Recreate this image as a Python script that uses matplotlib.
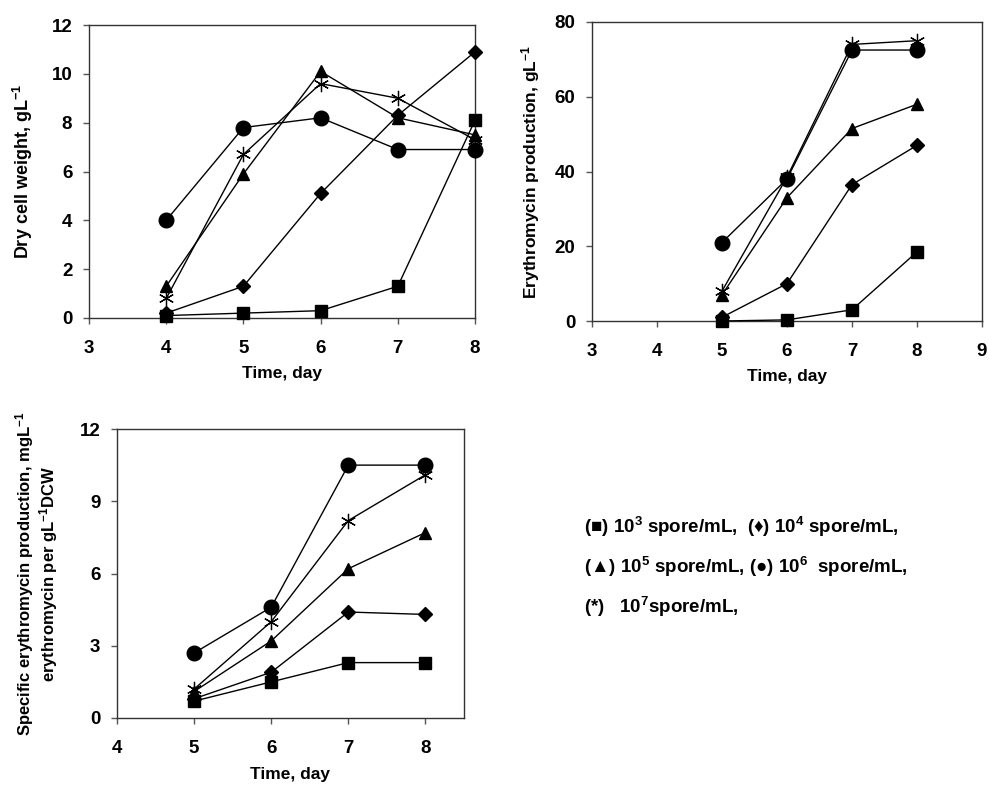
import matplotlib
matplotlib.use("Agg")
import matplotlib.pyplot as plt

plt.rcParams["font.family"] = ["Liberation Sans", "DejaVu Sans"]
plt.rcParams["font.weight"] = "bold"
plt.rcParams["mathtext.fontset"] = "custom"
plt.rcParams["mathtext.rm"] = "Liberation Sans:bold"
plt.rcParams["mathtext.bf"] = "Liberation Sans:bold"
plt.rcParams["mathtext.default"] = "bf"

# --- data ---
days_dcw = [4, 5, 6, 7, 8]
dcw_1e3 = [0.1, 0.2, 0.3, 1.3, 8.1]
dcw_1e4 = [0.2, 1.3, 5.1, 8.3, 10.9]
dcw_1e5 = [1.3, 5.9, 10.1, 8.2, 7.5]
dcw_1e6 = [4.0, 7.8, 8.2, 6.9, 6.9]
dcw_1e7 = [0.8, 6.7, 9.6, 9.0, 7.3]

days_ery = [5, 6, 7, 8]
ery_1e3 = [0.0, 0.3, 3.0, 18.5]
ery_1e4 = [1.0, 10.0, 36.5, 47.0]
ery_1e5 = [7.0, 33.0, 51.5, 58.0]
ery_1e6 = [21.0, 38.0, 72.5, 72.5]
ery_1e7 = [8.0, 38.5, 74.0, 75.0]

spec_1e3 = [0.7, 1.5, 2.3, 2.3]
spec_1e4 = [0.8, 1.9, 4.4, 4.3]
spec_1e5 = [1.1, 3.2, 6.2, 7.7]
spec_1e6 = [2.7, 4.6, 10.5, 10.5]
spec_1e7 = [1.2, 4.0, 8.2, 10.1]

# marker style per inoculum (10^3 ... 10^7)
styles = [
    dict(marker="s", ms=9),
    dict(marker="D", ms=7.5),
    dict(marker="^", ms=9),
    dict(marker="o", ms=10.5),
    dict(marker=(6, 2, 0), ms=11, mew=0.9),
]

W, H = 989, 785
fig = plt.figure(figsize=(W / 100, H / 100), dpi=100)
TICK_FS = 13.5
LAB_FS = 12.5


def px_axes(l, t, r, b):
    return fig.add_axes([l / W, 1 - b / H, (r - l) / W, (b - t) / H])


def draw(ax, x, series):
    for y, st in zip(series, styles):
        kw = dict(color="black", lw=1.0, mfc="black", mec="black", clip_on=False, zorder=3)
        kw.update(st)
        ax.plot(x, y, **kw)
    ax.tick_params(direction="out", length=4, width=1, labelsize=TICK_FS, color="#555555")
    ax.tick_params(axis="x", pad=12)
    ax.tick_params(axis="y", pad=8)
    for s in ax.spines.values():
        s.set_linewidth(1.0)
        s.set_color("#333333")


ax1 = px_axes(89, 25, 475, 318)
draw(ax1, days_dcw, [dcw_1e3, dcw_1e4, dcw_1e5, dcw_1e6, dcw_1e7])
ax1.set_xlim(3, 8)
ax1.set_ylim(0, 12)
ax1.set_xticks([3, 4, 5, 6, 7, 8])
ax1.set_yticks([0, 2, 4, 6, 8, 10, 12])
ax1.set_xlabel("Time, day", fontsize=LAB_FS, fontweight="bold")
ax1.xaxis.set_label_coords(0.5, -0.165)
ax1.set_ylabel("Dry cell weight, gL$^{-1}$", fontsize=13, fontweight="bold")
ax1.yaxis.set_label_coords(-0.14, 0.5)

ax2 = px_axes(592, 22, 982, 321)
draw(ax2, days_ery, [ery_1e3, ery_1e4, ery_1e5, ery_1e6, ery_1e7])
ax2.set_xlim(3, 9)
ax2.set_ylim(0, 80)
ax2.set_xticks([3, 4, 5, 6, 7, 8, 9])
ax2.set_yticks([0, 20, 40, 60, 80])
ax2.set_xlabel("Time, day", fontsize=LAB_FS, fontweight="bold")
ax2.xaxis.set_label_coords(0.5, -0.162)
ax2.set_ylabel("Erythromycin production, gL$^{-1}$", fontsize=12.5, fontweight="bold")
ax2.yaxis.set_label_coords(-0.128, 0.5)

ax3 = px_axes(117, 429, 464, 718)
draw(ax3, days_ery, [spec_1e3, spec_1e4, spec_1e5, spec_1e6, spec_1e7])
ax3.set_xlim(4, 8.5)
ax3.set_ylim(0, 12)
ax3.set_xticks([4, 5, 6, 7, 8])
ax3.set_yticks([0, 3, 6, 9, 12])
ax3.set_xlabel("Time, day", fontsize=LAB_FS, fontweight="bold")
ax3.xaxis.set_label_coords(0.5, -0.168)
ax3.set_ylabel("Specific erythromycin production, mgL$^{-1}$\nerythromycin per gL$^{-1}$DCW",
               fontsize=12, fontweight="bold", linespacing=1.05)
ax3.yaxis.set_label_coords(-0.165, 0.5)

legend_lines = [
    "(\u25a0) 10$^3$ spore/mL,  (\u2666) 10$^4$ spore/mL,",
    "(\u25b2) 10$^5$ spore/mL, (\u25cf) 10$^6$  spore/mL,",
    "(*)   10$^7$spore/mL,",
]
for i, line in enumerate(legend_lines):
    fig.text(584 / W, 1 - (527 + 40 * i) / H, line, fontsize=13.5, fontweight="bold",
             va="center", ha="left")

fig.savefig("out.png", dpi=100)
